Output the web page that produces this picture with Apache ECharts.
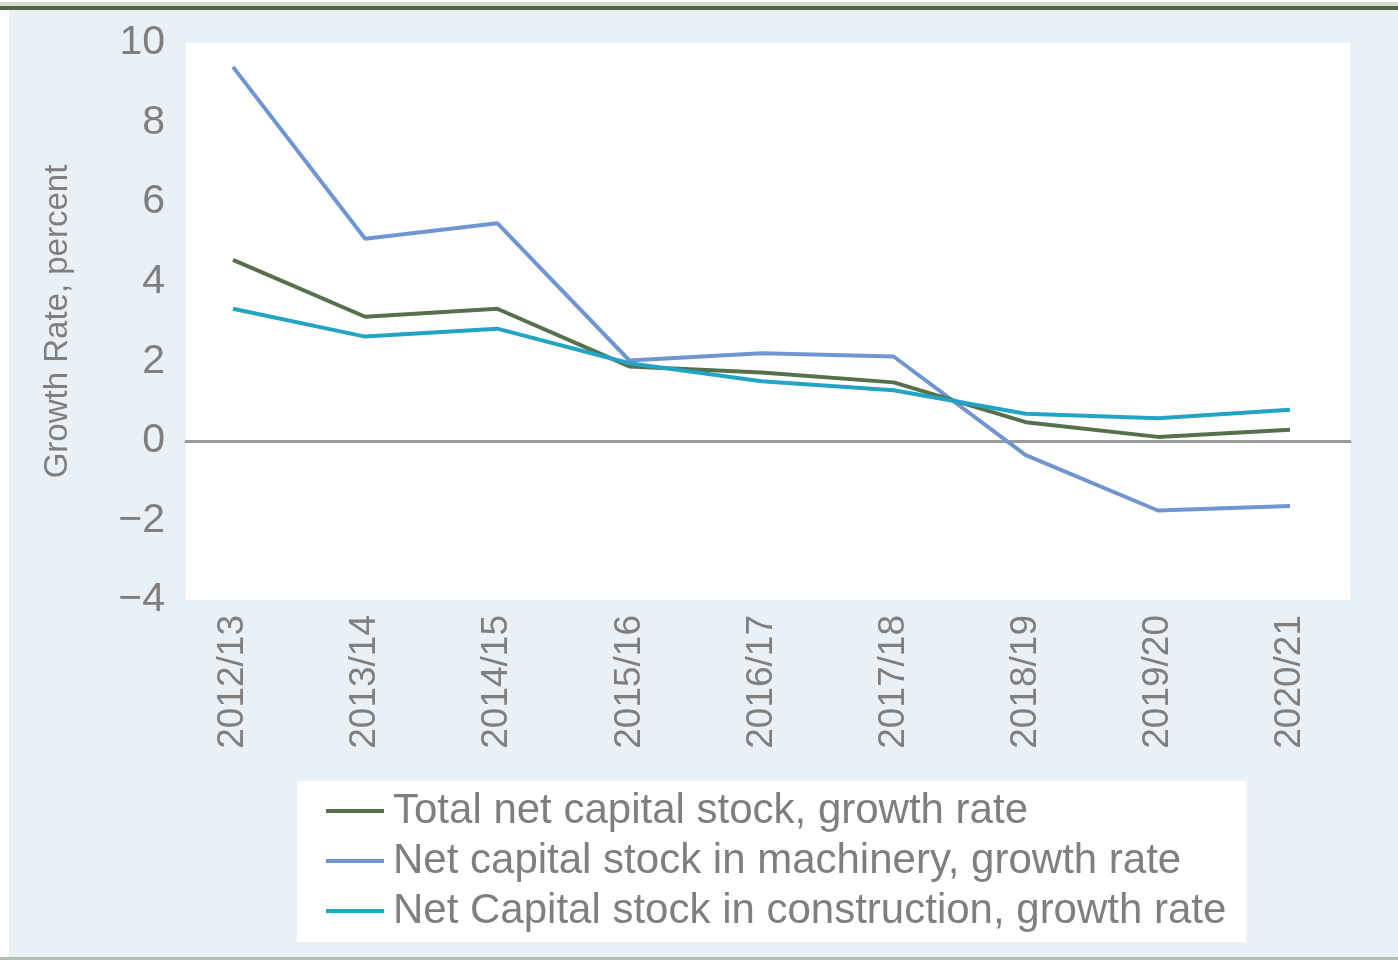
<!DOCTYPE html>
<html>
<head>
<meta charset="utf-8">
<script src="https://cdn.jsdelivr.net/npm/echarts@6/dist/echarts.min.js"></script>
<style>
  html, body { margin: 0; padding: 0; background: #fff; }
  #chart { width: 1398px; height: 960px; }
</style>
</head>
<body>
<div id="chart"></div>
<script>
const years = ['2012/13', '2013/14', '2014/15', '2015/16', '2016/17', '2017/18', '2018/19', '2019/20', '2020/21'];
const totalNet = [4.55, 3.12, 3.32, 1.87, 1.72, 1.47, 0.47, 0.1, 0.28];
const machinery = [9.4, 5.08, 5.47, 2.02, 2.2, 2.12, -0.36, -1.75, -1.64];
const construction = [3.32, 2.62, 2.82, 1.95, 1.5, 1.27, 0.68, 0.57, 0.78];
const yTicks = { min: -4, max: 10, step: 2 };

const labelColor = '#7f7f7f';
const chart = echarts.init(document.getElementById('chart'));

const option = {
  backgroundColor: '#ffffff',
  animation: false,
  graphic: [
    // panel + top rules
    { type: 'rect', z: -10, shape: { x: 9, y: 10, width: 1389, height: 947 }, style: { fill: '#e9f1f7' } },
    { type: 'rect', z: -10, shape: { x: 0, y: 2, width: 1398, height: 4 }, style: { fill: '#dcdbd3' } },
    { type: 'rect', z: -10, shape: { x: 0, y: 6, width: 1398, height: 4 }, style: { fill: '#4f6647' } },
    { type: 'rect', z: -10, shape: { x: 0, y: 957, width: 1398, height: 3 }, style: { fill: '#b3beb5' } }
  ],
  grid: [
    // white plot background with y axis
    { left: 186, top: 43, width: 1164, height: 557, show: true, backgroundColor: '#ffffff', borderWidth: 0 },
    // data grid (points start/end inside the plot)
    { left: 233, top: 43, width: 1057, height: 557 }
  ],
  xAxis: [
    {
      gridIndex: 0, type: 'value', min: 0, max: 1,
      axisLine: { show: true, onZero: true, lineStyle: { color: '#9b9b9b', width: 3 } },
      axisTick: { show: false }, axisLabel: { show: false }, splitLine: { show: false }
    },
    {
      gridIndex: 1, type: 'category', data: years, boundaryGap: false,
      axisLine: { show: false }, axisTick: { show: false }, splitLine: { show: false },
      axisLabel: {
        interval: 0, rotate: 90, margin: 15, color: labelColor,
        fontFamily: 'Liberation Sans, Arial', fontSize: 37
      }
    }
  ],
  yAxis: [
    {
      gridIndex: 0, type: 'value', min: yTicks.min, max: yTicks.max, interval: yTicks.step,
      name: 'Growth Rate, percent', nameLocation: 'middle', nameGap: 112,
      nameTextStyle: { color: labelColor, fontFamily: 'Liberation Sans, Arial', fontSize: 33 },
      axisLine: { show: false }, axisTick: { show: false }, splitLine: { show: false },
      axisLabel: {
        margin: 21, color: labelColor, fontFamily: 'Liberation Sans, Arial', fontSize: 41,
        formatter: v => (v < 0 ? '\u2212' + Math.abs(v) : String(v))
      }
    },
    {
      gridIndex: 1, type: 'value', min: yTicks.min, max: yTicks.max, interval: yTicks.step,
      show: false, splitLine: { show: false }
    }
  ],
  legend: {
    orient: 'vertical',
    left: 297, top: 781,
    backgroundColor: '#ffffff',
    padding: [7, 20, 8, 29],
    icon: 'rect',
    itemWidth: 58, itemHeight: 4, itemGap: 4,
    textStyle: { color: labelColor, fontFamily: 'Liberation Sans, Arial', fontSize: 42, lineHeight: 46, padding: [0, 0, 0, 4] },
    data: [
      'Total net capital stock, growth rate',
      'Net capital stock in machinery, growth rate',
      'Net Capital stock in construction, growth rate'
    ]
  },
  series: [
    {
      name: 'Total net capital stock, growth rate', type: 'line', xAxisIndex: 1, yAxisIndex: 1,
      data: totalNet, symbol: 'none', z: 3,
      lineStyle: { color: '#56704c', width: 4 }, itemStyle: { color: '#56704c' }
    },
    {
      name: 'Net capital stock in machinery, growth rate', type: 'line', xAxisIndex: 1, yAxisIndex: 1,
      data: machinery, symbol: 'none', z: 2,
      lineStyle: { color: '#7096d2', width: 4 }, itemStyle: { color: '#7096d2' }
    },
    {
      name: 'Net Capital stock in construction, growth rate', type: 'line', xAxisIndex: 1, yAxisIndex: 1,
      data: construction, symbol: 'none', z: 4,
      lineStyle: { color: '#22a4c6', width: 4 }, itemStyle: { color: '#22a4c6' }
    }
  ]
};

chart.setOption(option);
</script>
</body>
</html>
